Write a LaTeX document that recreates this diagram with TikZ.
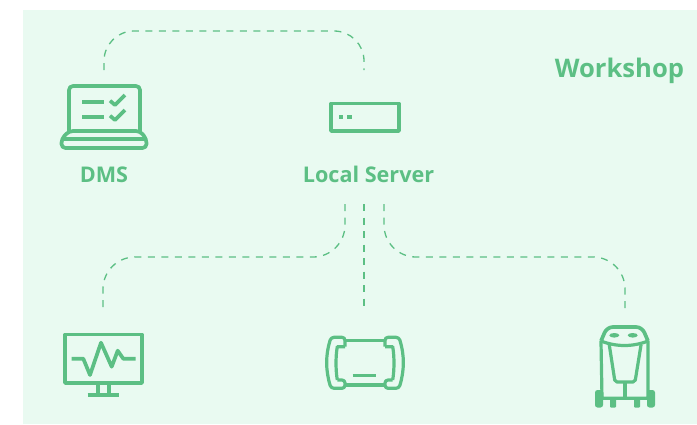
\documentclass[tikz,border=0pt]{standalone}
\usepackage{fontspec}
\setmainfont{Open Sans}
\usepackage{tikz}
\usetikzlibrary{positioning}
\definecolor{panelgreen}{HTML}{E9FAF1}
\definecolor{icongreen}{HTML}{5CBF84}

\begin{document}
\begin{tikzpicture}[
x=1pt,y=-1pt,
label/.style={text=icongreen,font=\bfseries\fontsize{21.6}{24}\selectfont,inner sep=0pt},
link/.style={draw=icongreen,line width=1.3pt,dash pattern=on 7pt off 6.5pt},
icon/.style={draw=icongreen,line width=3.7pt,line join=round,fill=none},
thinicon/.style={icon,line width=3.2pt},
dot/.style={fill=icongreen,draw=none}]
    \useasboundingbox (0,0) rectangle (697,424);
    \fill[panelgreen] (23,10) rectangle (697,424);

    % Labels
    \node (workshop) [label,font=\bfseries\fontsize{25.6}{28}\selectfont] at (619.5,71) {Workshop};
    \node (dms) [label] at (104,174.5) {DMS};
    \node (server) [label] at (368.5,174.5) {Local Server};

    \draw
    (104,70) coordinate (dmsport)
    (364,70) coordinate (serverup)
    (345,204) coordinate (serverleft)
    (364,204) coordinate (servermid)
    (384,204) coordinate (serverright)
    (103,308) coordinate (monitorport)
    (364,306) coordinate (testerport)
    (625,308) coordinate (robotport);

    % Connectors
    \draw[link,rounded corners=30pt] (dmsport) -- ++(0,-39) -| (serverup);
    \draw[link,rounded corners=32pt] (serverleft) -- ++(0,53) -| (monitorport);
    \draw[link] (servermid) -- (testerport);
    \draw[link,rounded corners=32pt] (serverright) -- ++(0,53) -| (robotport);

    % Laptop
    \draw[icon,rounded corners=4pt] (69,131) -- (69,86) -- (140,86) -- (140,131);
    \draw[icon,rounded corners=4pt] (69,131) -- (61.5,139) -- (61.5,148) -- (146.5,148) -- (146.5,139) -- (140,131) -- cycle;
    \draw[icon] (62,139) -- (146,139);
    \draw[icon] (82,101.7) -- (104,101.7);
    \draw[icon] (82,116.7) -- (104,116.7);
    \draw[icon] (110,100.7) -- (115,105) -- (125,95);
    \draw[icon] (110,115.7) -- (115,120) -- (125,110);

    % Server
    \draw[icon] (331,103.5) rectangle (399,131);
    \fill[dot] (338.5,114.5) rectangle (343,119);
    \fill[dot] (347,114.5) rectangle (351.5,119);

    % Monitor
    \draw[icon] (65,334.5) rectangle (142,383);
    \draw[icon] (71.7,358.7) -- (83.3,358.7) -- (90,375) -- (101,342.7) -- (111.7,366.7) -- (117.7,350.7) -- (123.3,358.7) -- (135.7,358.7);
    \draw[icon] (97.7,383) -- (97.7,394.7);
    \draw[icon] (109.3,383) -- (109.3,394.7);
    \draw[icon] (87.7,394.7) -- (119.3,394.7);

    % Tester
    \draw[thinicon,rounded corners=3pt] (345,346.7) -- (345,337.3) -- (331,337.3) .. controls (325.5,355) and (325.5,370) .. (331,388.3) -- (345,388.3) -- (345,380) -- (337.3,380);
    \draw[thinicon] (337.3,380) .. controls (335.6,370) and (335.6,356) .. (337.3,346.7) -- (345,346.7);
    \draw[thinicon,rounded corners=3pt] (385,346.7) -- (385,337.3) -- (399,337.3) .. controls (404.5,355) and (404.5,370) .. (399,388.3) -- (385,388.3) -- (385,380) -- (392.7,380);
    \draw[thinicon] (392.7,380) .. controls (394.4,370) and (394.4,356) .. (392.7,346.7) -- (385,346.7);
    \draw[thinicon] (345,340.7) -- (385,340.7);
    \draw[thinicon] (345,385) -- (385,385);
    \draw[thinicon] (352.7,375.7) -- (376,375.7);

    % Robot
    \draw[icon,rounded corners=6pt] (601,341) -- (607,327) -- (642,327) -- (648,341);
    \draw[thinicon] (601,341) .. controls (616,347) and (633,347) .. (648,341);
    \fill[dot] (614.3,335.3) ellipse (5pt and 2.3pt);
    \fill[dot] (632.7,335.3) ellipse (5pt and 2.3pt);
    \draw[thinicon,rounded corners=2pt] (609.3,345) -- (615,382) -- (635,382) -- (641,345);
    \draw[thinicon] (601,341) -- (602,398.3) -- (648,398.3) -- (648,341);
    \draw[thinicon] (625,382) -- (625,398.3);
    \fill[dot,rounded corners=2.5pt] (595,390) rectangle (603,407.5);
    \fill[dot,rounded corners=2.5pt] (647,390) rectangle (655,407.5);
    \fill[dot,rounded corners=1pt] (610,398.3) rectangle (616,407.5);
    \fill[dot,rounded corners=1pt] (634,398.3) rectangle (640,407.5);
\end{tikzpicture}
\end{document}
